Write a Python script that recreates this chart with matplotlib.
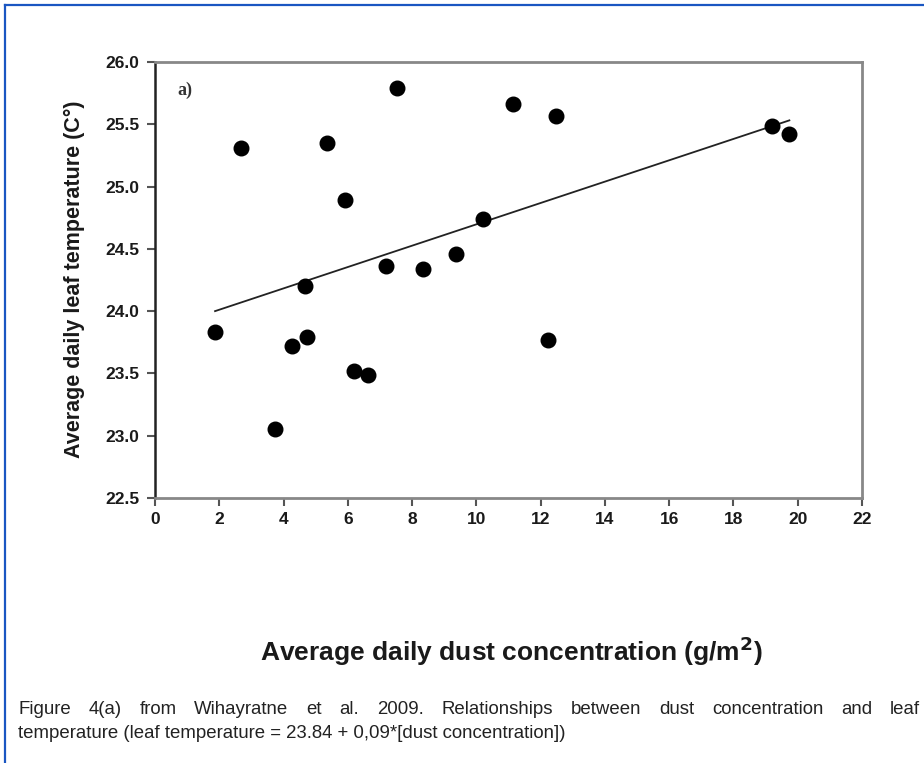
import numpy as np
import matplotlib
matplotlib.use("Agg")
import matplotlib.pyplot as plt
from matplotlib.lines import Line2D

# data
dust = [1.87, 2.68, 3.74, 4.26, 4.66, 4.73, 5.35, 5.92, 6.20, 6.64,
        7.19, 7.54, 8.34, 9.36, 10.21, 11.14, 12.48, 12.22, 19.20, 19.74]
leaf_temp = [23.83, 25.31, 23.05, 23.72, 24.20, 23.79, 25.35, 24.89, 23.52, 23.49,
             24.36, 25.79, 24.34, 24.46, 24.74, 25.66, 25.57, 23.77, 25.49, 25.42]
fit_intercept = 23.84
fit_slope = 0.0857
x_ticks = list(range(0, 23, 2))
y_ticks = [22.5, 23.0, 23.5, 24.0, 24.5, 25.0, 25.5, 26.0]

caption1 = "Figure 4(a) from Wihayratne et al. 2009. Relationships between dust concentration and leaf"
caption2 = "temperature (leaf temperature = 23.84 + 0,09*[dust concentration])"

plt.rcParams['font.family'] = ['Liberation Sans', 'DejaVu Sans']

fig = plt.figure(figsize=(9.24, 7.63), dpi=100)
ax = fig.add_axes([0.1677, 0.3473, 0.7652, 0.5714])

ax.scatter(dust, leaf_temp, s=110, color='black', zorder=3)
xf = np.array([min(dust), max(dust)])
ax.plot(xf, fit_intercept + fit_slope*xf, color='#222222', lw=1.3)

ax.set_xlim(0, 22)
ax.set_ylim(22.5, 26.0)
ax.set_xticks(x_ticks)
ax.set_yticks(y_ticks)
ax.set_yticklabels([f"{v:.1f}" for v in y_ticks])
for lab in ax.get_xticklabels() + ax.get_yticklabels():
    lab.set_fontweight('bold')
    lab.set_fontsize(12.5)
    lab.set_color('#1a1a1a')
ax.tick_params(direction='out', length=6, width=1.5, color='#555555')
ax.tick_params(axis='x', pad=4)
ax.tick_params(axis='y', pad=5)

for side in ['top', 'right', 'bottom']:
    ax.spines[side].set_color('#888888')
    ax.spines[side].set_linewidth(2)
ax.spines['left'].set_color('#222222')
ax.spines['left'].set_linewidth(1.8)

ax.text(0.032, 0.955, "a)", transform=ax.transAxes, family='Liberation Serif',
        fontweight='bold', fontsize=13, color='#333333', va='top')

fig.text(0.081, 0.634, "Average daily leaf temperature (C\u00b0)", rotation=90,
         ha='center', va='center', fontsize=15.5, fontweight='bold', color='#1a1a1a')
fig.text(0.553, 0.146, "Average daily dust concentration (g/m$^{\\mathbf{2}}$)",
         ha='center', va='center', fontsize=19, fontweight='bold', color='#1a1a1a')

# blue frame, open to the right and bottom like the page crop
blue = '#1a56c2'
fig.add_artist(Line2D([0.0054, 0.0054], [0.0, 0.9934], transform=fig.transFigure, color=blue, lw=1.6))
fig.add_artist(Line2D([0.0054, 1.0], [0.9934, 0.9934], transform=fig.transFigure, color=blue, lw=1.6))

# justified first caption line
fig.canvas.draw()
r = fig.canvas.get_renderer()
words = caption1.split()
x0, x1 = 18/924, 920/924
widths = []
for w in words:
    t = fig.text(0, 0, w, fontsize=13.4)
    widths.append(t.get_window_extent(r).width / fig.bbox.width)
    t.remove()
gap = (x1 - x0 - sum(widths)) / (len(words) - 1)
x = x0
for w, wd in zip(words, widths):
    fig.text(x, 0.0695, w, fontsize=13.4, va='center', color='#222222')
    x += wd + gap
fig.text(x0, 0.0393, caption2, fontsize=13.4, va='center', color='#222222')

fig.savefig("out.png", dpi=100)
